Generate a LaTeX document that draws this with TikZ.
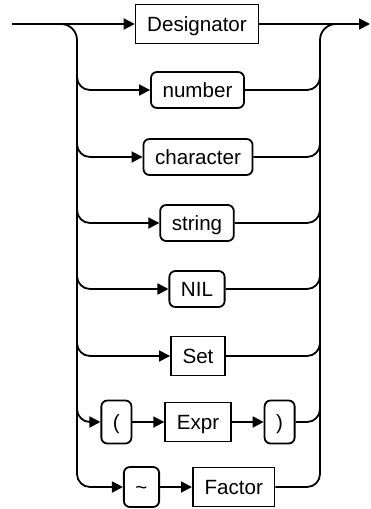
\documentclass[tikz,border=0pt]{standalone}
\usepackage{fontspec}
\setmainfont{Liberation Sans}
\usetikzlibrary{positioning,arrows.meta}

\begin{document}
\begin{tikzpicture}[x=0.5pt,y=-0.5pt,line width=0.9pt,
		nonterm/.style={draw,rectangle,inner xsep=5.8pt,inner ysep=0pt,minimum height=19.5pt,
			text height=7.4pt,text depth=0pt,font=\fontsize{10.3}{12}\selectfont},
		term/.style={nonterm,rounded corners=3pt,minimum height=18pt},
		flow/.style={-{Triangle[length=5.5pt,width=5.5pt]}},
		node distance=16pt]
		\useasboundingbox (0,0) rectangle (370,509);
		
		%%% alternatives
		\node[nonterm] (desig) at (197,24) {Designator};
		\node[term] (number) at (197.5,90) {number};
		\node[term] (char) at (198,157) {character};
		\node[term] (string) at (197,223) {string};
		\node[term] (nil) at (197,289) {NIL};
		\node[nonterm] (set) at (198,356) {Set};
		\node[nonterm] (expr) at (198,422) {Expr};
		\node[term,minimum height=21.5pt,left=of expr] (lpar) {(};
		\node[term,minimum height=21.5pt,right=of expr] (rpar) {)};
		\node[term,minimum height=20pt] (tilde) at (141.5,487) {\textasciitilde};
		\node[nonterm,right=of tilde] (factor) {Factor};
		
		%%% rails
		\coordinate (in) at (12,24);
		\coordinate (out) at (370,24);
		\coordinate (lsplit) at (60,24);
		\coordinate (rjoin) at (336,24);
		\coordinate (ltop) at (77,60);
		\coordinate (lbot) at (77,460);
		\coordinate (rtop) at (320,60);
		\coordinate (rbot) at (320,460);
		
		\draw[flow] (in) -- (desig);
		\draw[flow] (desig) -- (out);
		\draw[rounded corners=8pt] (lsplit) -| (lbot);
		\draw[rounded corners=8pt] (rbot) |- (rjoin);
		
		\foreach \n in {number,char,string,nil,set,lpar,tilde}
		\draw[flow,rounded corners=6.5pt] (ltop) |- (\n);
		\foreach \n in {number,char,string,nil,set,rpar,factor}
		\draw[rounded corners=6.5pt] (\n) -| (rtop);
		
		\draw[flow] (lpar) -- (expr);
		\draw[flow] (expr) -- (rpar);
		\draw[flow] (tilde) -- (factor);
		
	\end{tikzpicture}
\end{document}
